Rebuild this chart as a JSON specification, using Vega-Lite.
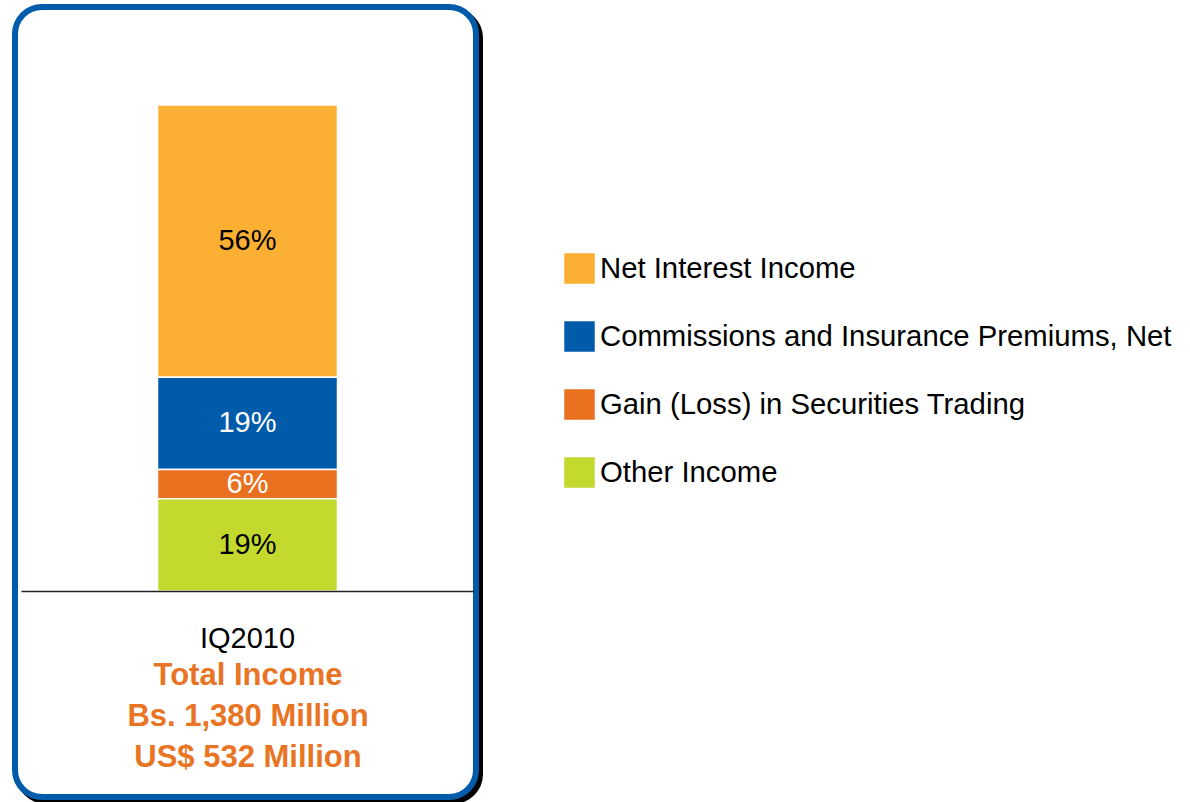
{
  "$schema": "https://vega.github.io/schema/vega-lite/v6.json",
  "width": 461,
  "height": 790,
  "autosize": {"type": "none"},
  "padding": {"left": 15, "top": 7, "right": 714, "bottom": 5},
  "background": "white",
  "config": {"view": {"stroke": null}, "font": "Liberation Sans"},
  "layer": [
    {
      "data": {"values": [{"frame": "box"}]},
      "layer": [
        {
          "mark": {"type": "rect", "fill": "black", "stroke": "black", "strokeWidth": 6, "cornerRadius": 27, "xOffset": 4, "x2Offset": 4, "yOffset": 4, "y2Offset": 4},
          "encoding": {
            "x": {"datum": 0, "type": "quantitative", "scale": {"domain": [0, 1], "nice": false, "zero": false}, "axis": null},
            "x2": {"datum": 1},
            "y": {"datum": 0, "type": "quantitative", "scale": {"domain": [0, 1], "nice": false, "zero": false}, "axis": null},
            "y2": {"datum": 1}
          }
        },
        {
          "mark": {"type": "rect", "fill": "white", "stroke": "#005BAA", "strokeWidth": 6, "cornerRadius": 27},
          "encoding": {
            "x": {"datum": 0, "type": "quantitative", "axis": null},
            "x2": {"datum": 1},
            "y": {"datum": 0, "type": "quantitative", "axis": null},
            "y2": {"datum": 1}
          }
        }
      ]
    },
    {
      "data": {"values": [
        {"period": "IQ2010", "category": "Net Interest Income", "rank": 1, "pct": 0.56},
        {"period": "IQ2010", "category": "Commissions and Insurance Premiums, Net", "rank": 2, "pct": 0.19},
        {"period": "IQ2010", "category": "Gain (Loss) in Securities Trading", "rank": 3, "pct": 0.06},
        {"period": "IQ2010", "category": "Other Income", "rank": 4, "pct": 0.19}
      ]},
      "transform": [
        {"stack": "pct", "groupby": ["period"], "sort": [{"field": "rank", "order": "descending"}], "as": ["y0", "y1"]},
        {"calculate": "(datum.y0 + datum.y1) / 2", "as": "ymid"}
      ],
      "layer": [
        {
          "mark": {"type": "bar", "width": 180, "stroke": "white", "strokeWidth": 1.5},
          "encoding": {
            "x": {
              "field": "period", "type": "nominal",
              "scale": {"range": [6, 459], "paddingInner": 0, "paddingOuter": 0},
              "axis": {
                "zindex": 2,
                "title": ["Total Income", "Bs. 1,380 Million", "US$ 532 Million"],
                "titleFont": "Liberation Sans", "titleFontSize": 31, "titleFontWeight": "bold",
                "titleColor": "#E87424", "titleLineHeight": 41, "titlePadding": 7,
                "labelFont": "Liberation Sans", "labelFontSize": 29, "labelColor": "black",
                "labelPadding": 33, "labelAngle": 0, "ticks": false, "tickSize": 0,
                "domainColor": "#222222", "domainWidth": 1.5, "offset": -206
              }
            },
            "y": {"field": "y0", "type": "quantitative", "scale": {"domain": [-0.42387, 1.20165], "nice": false, "zero": false}, "axis": null},
            "y2": {"field": "y1"},
            "color": {
              "field": "category", "type": "nominal",
              "scale": {
                "domain": ["Net Interest Income", "Commissions and Insurance Premiums, Net", "Gain (Loss) in Securities Trading", "Other Income"],
                "range": ["#FBB034", "#005BAA", "#E8701F", "#C4D92E"]
              },
              "legend": {
                "title": null, "orient": "none", "legendX": 549, "legendY": 246, "padding": 0,
                "symbolType": "square", "symbolSize": 930, "symbolStrokeWidth": 0, "symbolOpacity": 1,
                "labelFont": "Liberation Sans", "labelFontSize": 29.3, "labelColor": "black",
                "labelOffset": 5, "labelLimit": 0, "rowPadding": 37
              }
            }
          }
        },
        {
          "mark": {"type": "text", "fontSize": 29, "font": "Liberation Sans", "baseline": "middle", "align": "center"},
          "encoding": {
            "x": {"field": "period", "type": "nominal"},
            "y": {"field": "ymid", "type": "quantitative"},
            "text": {"field": "pct", "type": "quantitative", "format": ".0%"},
            "color": {
              "condition": {"test": "datum.rank === 2 || datum.rank === 3", "value": "white"},
              "value": "black"
            }
          }
        }
      ]
    }
  ],
  "resolve": {"scale": {"x": "independent", "y": "independent"}, "axis": {"x": "independent", "y": "independent"}}
}
